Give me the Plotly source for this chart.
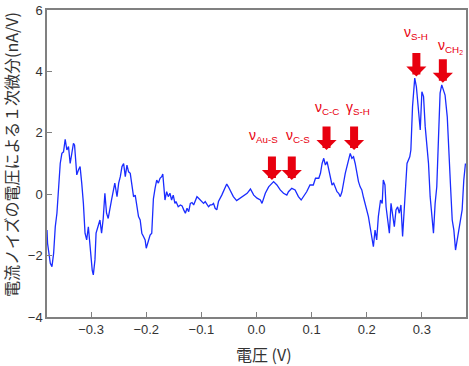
import plotly.graph_objects as go

voltage = [-0.380, -0.379, -0.374, -0.371, -0.368, -0.365, -0.362, -0.359, -0.356, -0.353,
           -0.350, -0.347, -0.344, -0.341, -0.338, -0.335, -0.332, -0.330, -0.326, -0.323,
           -0.320, -0.317, -0.314, -0.311, -0.308, -0.305, -0.302, -0.298, -0.296, -0.293,
           -0.291, -0.287, -0.284, -0.281, -0.278, -0.275, -0.272, -0.269, -0.266, -0.263,
           -0.260, -0.257, -0.253, -0.250, -0.247, -0.244, -0.241, -0.238, -0.235, -0.232,
           -0.229, -0.226, -0.223, -0.220, -0.217, -0.214, -0.211, -0.208, -0.205, -0.202,
           -0.200, -0.197, -0.193, -0.190, -0.187, -0.184, -0.181, -0.178, -0.175, -0.172,
           -0.170, -0.168, -0.166, -0.163, -0.160, -0.157, -0.154, -0.151, -0.148, -0.146,
           -0.142, -0.138, -0.135, -0.132, -0.129, -0.126, -0.123, -0.120, -0.117, -0.114,
           -0.111, -0.108, -0.105, -0.102, -0.099, -0.096, -0.093, -0.091, -0.087, -0.084,
           -0.081, -0.078, -0.075, -0.072, -0.069, -0.063, -0.057, -0.054, -0.051, -0.048,
           -0.042, -0.036, -0.030, -0.024, -0.017, -0.011, -0.005, 0.001, 0.007, 0.010,
           0.016, 0.022, 0.028, 0.031, 0.037, 0.043, 0.049, 0.055, 0.058, 0.064,
           0.070, 0.076, 0.081, 0.085, 0.091, 0.097, 0.103, 0.107, 0.113, 0.116,
           0.119, 0.122, 0.125, 0.128, 0.131, 0.134, 0.137, 0.140, 0.143, 0.146,
           0.149, 0.152, 0.155, 0.158, 0.161, 0.164, 0.167, 0.170, 0.173, 0.176,
           0.179, 0.182, 0.185, 0.188, 0.191, 0.194, 0.197, 0.200, 0.203, 0.206,
           0.209, 0.212, 0.215, 0.218, 0.221, 0.225, 0.228, 0.230, 0.233, 0.235,
           0.238, 0.241, 0.244, 0.247, 0.250, 0.253, 0.256, 0.259, 0.262, 0.265,
           0.268, 0.273, 0.278, 0.280, 0.283, 0.287, 0.290, 0.293, 0.295, 0.297,
           0.300, 0.303, 0.306, 0.309, 0.312, 0.315, 0.318, 0.321, 0.324, 0.327,
           0.330, 0.333, 0.336, 0.339, 0.342, 0.346, 0.348, 0.352, 0.355, 0.358,
           0.361, 0.364, 0.366, 0.370, 0.373, 0.376, 0.379]

derivative = [-1.17, -1.60, -2.25, -2.36, -1.93, -1.06, -0.62, 0.14, 1.00, 1.33,
              1.38, 1.79, 1.44, 1.55, 1.00, 1.33, 1.66, 1.60, 0.63, 0.79,
              0.90, 0.36, -0.30, -1.27, -1.49, -1.06, -1.71, -2.47, -2.63, -2.14,
              -1.27, -1.06, -0.84, -1.27, -0.79, 0.03, -0.62, -0.79, -0.41, -0.19,
              0.08, 0.36, -0.08, 0.36, 0.57, 0.90, 1.00, 0.57, 0.95, 0.73,
              0.68, 0.36, -0.08, -0.03, -0.35, -0.73, -0.84, -1.27, -1.38, -1.49,
              -1.76, -1.60, -1.33, -1.27, -0.15, 0.19, 0.46, 0.36, 0.52, 0.57,
              0.66, 0.24, -0.19, 0.08, -0.08, 0.03, -0.19, -0.03, -0.30, -0.24,
              -0.41, -0.35, -0.38, -0.51, -0.62, -0.46, -0.57, -0.30, -0.27, -0.35,
              -0.19, -0.08, -0.13, -0.19, -0.24, -0.30, -0.24, -0.30, -0.41, -0.35,
              -0.35, -0.30, -0.46, -0.51, -0.24, -0.03, 0.19, 0.33, 0.24, 0.14,
              -0.08, -0.21, -0.13, -0.08, 0.03, 0.17, -0.03, -0.13, -0.19, -0.30,
              0.03, 0.24, 0.36, 0.41, 0.30, 0.14, 0.03, -0.03, 0.08, 0.19,
              0.14, -0.08, -0.19, -0.08, 0.08, 0.30, 0.30, 0.52, 0.52, 0.68,
              1.00, 1.17, 0.95, 1.06, 0.79, 0.52, 0.30, 0.36, 0.19, 0.08,
              0.03, -0.08, 0.08, 0.46, 0.68, 0.90, 1.11, 1.33, 1.17, 1.22,
              1.00, 0.68, 0.41, 0.24, 0.14, -0.10, -0.30, -0.51, -0.73, -1.06,
              -1.38, -1.71, -1.17, -1.49, -0.73, -0.19, -0.30, 0.46, 0.30, -0.41,
              -0.84, -1.27, -0.30, -0.73, -1.06, -0.51, -0.41, -0.62, -0.35, -1.38,
              -0.41, 1.00, 1.22, 1.44, 2.85, 3.78, 3.50, 2.96, 2.42, 2.09,
              3.34, 3.18, 2.20, 1.66, 1.00, -0.08, -0.84, -1.27, -0.30, 0.24,
              1.77, 3.29, 3.56, 3.39, 3.23, 2.52, 1.55, 0.24, -0.84, -1.17,
              -1.82, -1.49, -1.17, -0.84, -0.51, 0.46, 1.00]

# peak labels and where their arrows point
peak_labels = ["ν<sub>Au-S</sub>", "ν<sub>C-S</sub>", "ν<sub>C-C</sub>",
               "γ<sub>S-H</sub>", "ν<sub>S-H</sub>", "ν<sub>CH<sub>2</sub></sub>"]
arrow_x = [0.028, 0.064, 0.127, 0.177, 0.290, 0.338]
arrow_y = [0.46, 0.46, 1.44, 1.44, 3.83, 3.63]
label_x = [0.012, 0.076, 0.128, 0.185, 0.290, 0.352]
label_y = [1.55, 1.55, 2.45, 2.45, 4.90, 4.45]

x_ticks = [-0.3, -0.2, -0.1, 0.0, 0.1, 0.2, 0.3]
y_ticks = [-4, -2, 0, 2, 4, 6]
x_title = "電圧 (V)"
y_title = "電流ノイズの電圧による１次微分(nA/V)"

FONT = "Arial, Liberation Sans, Noto Sans CJK JP, sans-serif"
CJK = "Noto Sans CJK JP, sans-serif"
RED = "#e8000f"
TXT = "#333333"

W, H = 469, 366
ml, mr, mt, mb = 47, 3, 10, 49
pw, ph = W - ml - mr, H - mt - mb

fig = go.Figure()
fig.add_trace(go.Scatter(x=voltage, y=derivative, mode="lines",
                         line=dict(color="#1a2cff", width=1.3), showlegend=False))

annotations = []
for ax_, ay_ in zip(arrow_x, arrow_y):
    annotations.append(dict(x=ax_, y=ay_, xref="x", yref="y", text="",
                            showarrow=True, ax=0, ay=-25, arrowhead=1,
                            arrowsize=0.42, arrowwidth=8, arrowcolor=RED))
for t, lx, ly in zip(peak_labels, label_x, label_y):
    annotations.append(dict(x=lx, y=ly, xref="x", yref="y", text=t,
                            showarrow=False, yanchor="bottom", xanchor="center",
                            font=dict(family=FONT, size=14, color=RED)))
title_font = dict(family=CJK, size=16, color=TXT)
annotations.append(dict(x=(264 - ml) / pw, y=(H - 354 - mb) / ph,
                        xref="paper", yref="paper", xanchor="center", yanchor="middle",
                        text=x_title, showarrow=False, font=title_font))
annotations.append(dict(x=(11 - ml) / pw, y=(H - 155 - mb) / ph,
                        xref="paper", yref="paper", xanchor="center", yanchor="middle",
                        text=y_title, textangle=-90, showarrow=False, font=title_font))

fig.update_layout(
    width=W, height=H,
    margin=dict(l=ml, r=mr, t=mt, b=mb, autoexpand=False),
    paper_bgcolor="white", plot_bgcolor="white",
    font=dict(family=FONT, size=13, color=TXT),
    annotations=annotations,
    xaxis=dict(range=[-0.38, 0.38], tickvals=x_ticks, tickformat=".1f",
               ticks="inside", ticklen=5, tickcolor="#808080",
               showline=True, linecolor="#808080", linewidth=1.5, mirror=True,
               showgrid=False, zeroline=False, automargin=False,
               tickfont=dict(family=FONT, size=13, color=TXT)),
    yaxis=dict(range=[-4, 6], tickvals=y_ticks,
               ticks="inside", ticklen=5, tickcolor="#808080",
               showline=True, linecolor="#808080", linewidth=1.5, mirror=True,
               showgrid=False, zeroline=False, automargin=False,
               tickfont=dict(family=FONT, size=13, color=TXT)),
)

fig.write_html("out.html", config={"displayModeBar": False},
               post_script="document.body.style.margin='0';document.body.style.padding='0';")
